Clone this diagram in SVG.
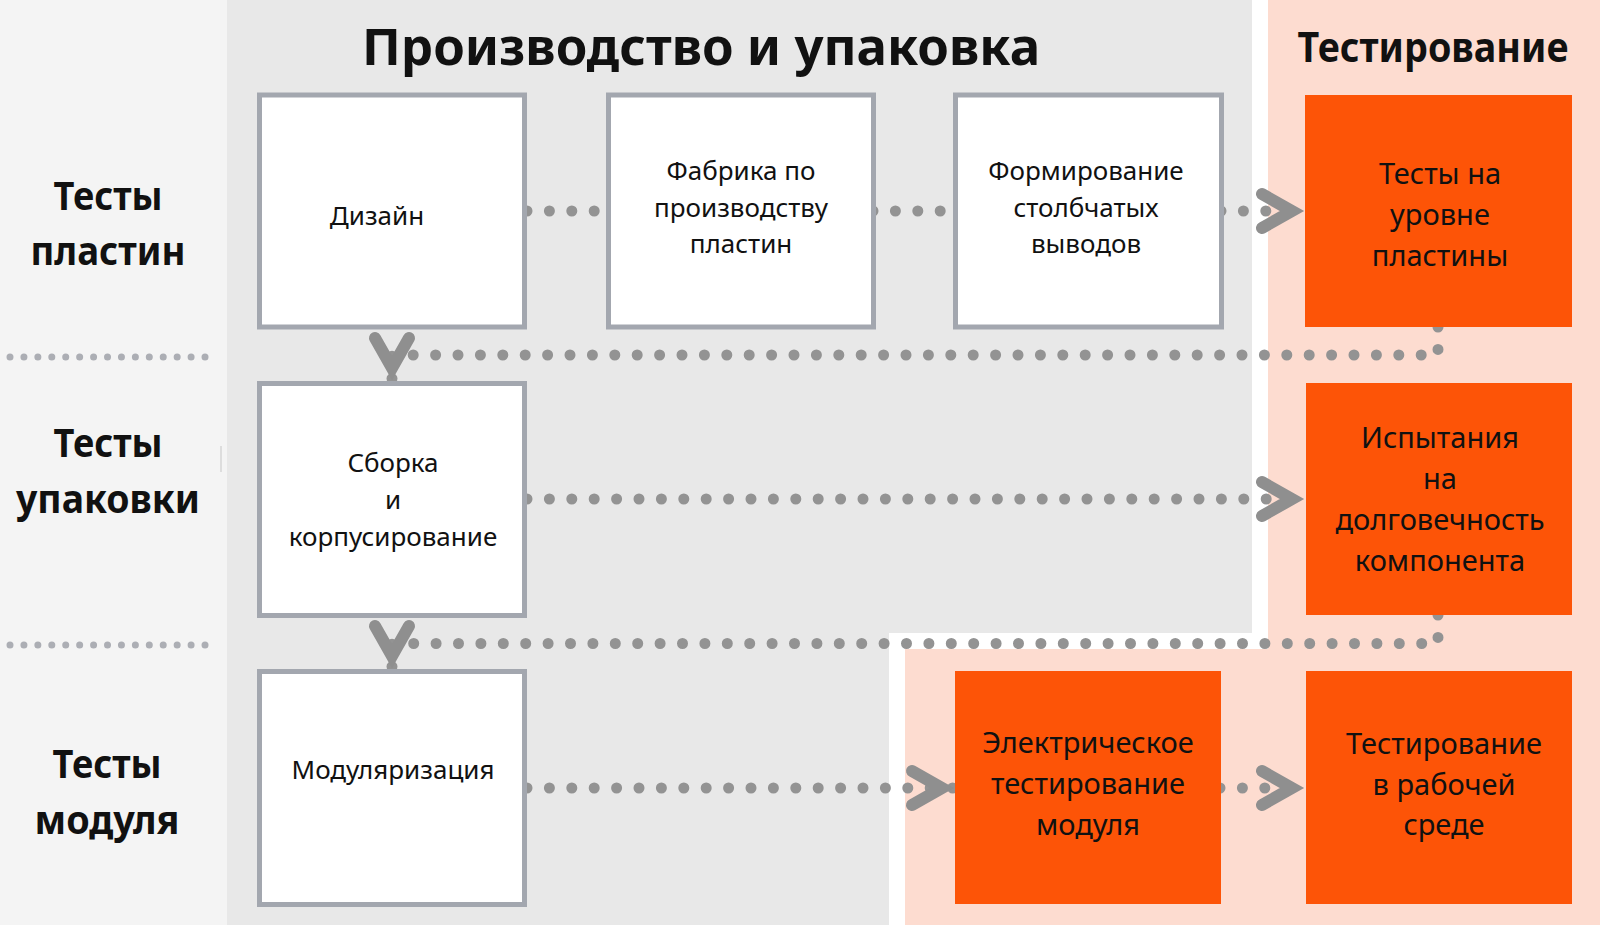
<svg xmlns="http://www.w3.org/2000/svg" width="1600" height="925" viewBox="0 0 1600 925">
<style>
.box{fill:#ffffff;stroke:#a3a7af;stroke-width:5}
.obox{fill:#fd5407}
.t{font-family:"Noto Sans","Open Sans","DejaVu Sans",sans-serif;fill:#111111;text-anchor:middle}
.tw{font-size:26px}
.to{font-size:29px}
.lbl{font-size:39px;font-weight:bold}
.dot{fill:none;stroke:#939393;stroke-width:11;stroke-linecap:round;stroke-dasharray:0 22.4;marker-end:url(#chev)}
.dotn{fill:none;stroke:#939393;stroke-width:11;stroke-linecap:round;stroke-dasharray:0 22.4}
.sep{fill:none;stroke:#acaeb4;stroke-width:7;stroke-linecap:round;stroke-dasharray:0 13.93}
</style>
<defs>
<marker id="chev" markerUnits="userSpaceOnUse" markerWidth="60" markerHeight="60" viewBox="-50 -30 60 60" refX="0" refY="0" orient="auto" overflow="visible">
<path d="M-42,-17 L-12,0 L-42,17" fill="none" stroke="#8f8f8f" stroke-width="12" stroke-linecap="round" stroke-linejoin="miter"/>
</marker>
</defs>
<g id="background">
<rect x="0" y="0" width="1600" height="925" fill="#ffffff"/>
<rect x="0" y="0" width="227" height="925" fill="#f4f4f4"/>
<path d="M227,0 H1252 V633 H889 V925 H227 Z" fill="#e8e8e8"/>
<path d="M1268,0 H1600 V925 H905 V649 H1268 Z" fill="#fddcd0"/>
<line x1="221" y1="446" x2="221" y2="472" stroke="#d6d6d6" stroke-width="1.5"/>
</g>
<g id="titles">
<text class="t" x="701" y="65" font-size="51" font-weight="bold" textLength="678" lengthAdjust="spacingAndGlyphs">Производство и упаковка</text>
<text class="t" x="1433" y="62" font-size="42" font-weight="bold" textLength="271" lengthAdjust="spacingAndGlyphs">Тестирование</text>
</g>
<g id="row-labels">
<text class="t lbl" x="108" y="210" textLength="109" lengthAdjust="spacingAndGlyphs">Тесты</text>
<text class="t lbl" x="108" y="265" textLength="155" lengthAdjust="spacingAndGlyphs">пластин</text>
<text class="t lbl" x="108" y="457" textLength="109" lengthAdjust="spacingAndGlyphs">Тесты</text>
<text class="t lbl" x="108" y="513" textLength="184" lengthAdjust="spacingAndGlyphs">упаковки</text>
<text class="t lbl" x="107" y="778" textLength="109" lengthAdjust="spacingAndGlyphs">Тесты</text>
<text class="t lbl" x="107" y="834" textLength="145" lengthAdjust="spacingAndGlyphs">модуля</text>
<path class="sep" d="M10,357 H206"/>
<path class="sep" d="M10,645 H206"/>
</g>
<g id="connectors">
<path class="dotn" d="M527,211 H606"/>
<path class="dotn" d="M873,211 H953"/>
<path class="dot" d="M1221,211 H1304"/>
<path class="dot" d="M1438,327 V355 H392 V380"/>
<path class="dot" d="M527,499 H1304"/>
<path class="dot" d="M1438,615 V643.5 H392 V668"/>
<path class="dot" d="M527,788 H954"/>
<path class="dot" d="M1220,788 H1304"/>
</g>
<g id="node-design">
<rect class="box" x="259.5" y="95" width="265" height="232"/>
<text class="t tw" x="377" y="225">Дизайн</text>
</g>
<g id="node-fab">
<rect class="box" x="608.5" y="95" width="265" height="232"/>
<text class="t tw" x="741" y="180">Фабрика по</text>
<text class="t tw" x="741" y="217">производству</text>
<text class="t tw" x="741" y="253">пластин</text>
</g>
<g id="node-bumping">
<rect class="box" x="955.5" y="95" width="266" height="232"/>
<text class="t tw" x="1086" y="180">Формирование</text>
<text class="t tw" x="1086" y="217">столбчатых</text>
<text class="t tw" x="1086" y="253">выводов</text>
</g>
<g id="node-wafer-test">
<rect class="obox" x="1305" y="95" width="267" height="232"/>
<text class="t to" x="1440" y="184">Тесты на</text>
<text class="t to" x="1440" y="225">уровне</text>
<text class="t to" x="1440" y="266">пластины</text>
</g>
<g id="node-assembly">
<rect class="box" x="259.5" y="383.5" width="265" height="232"/>
<text class="t tw" x="393" y="472">Сборка</text>
<text class="t tw" x="393" y="509">и</text>
<text class="t tw" x="393" y="546">корпусирование</text>
</g>
<g id="node-reliability">
<rect class="obox" x="1306" y="383" width="266" height="232"/>
<text class="t to" x="1440" y="448">Испытания</text>
<text class="t to" x="1440" y="489">на</text>
<text class="t to" x="1440" y="530">долговечность</text>
<text class="t to" x="1440" y="571">компонента</text>
</g>
<g id="node-module">
<rect class="box" x="259.5" y="671.5" width="265" height="233"/>
<text class="t tw" x="393" y="779">Модуляризация</text>
</g>
<g id="node-module-test">
<rect class="obox" x="955" y="671" width="266" height="233"/>
<text class="t to" x="1088" y="753">Электрическое</text>
<text class="t to" x="1088" y="794">тестирование</text>
<text class="t to" x="1088" y="835">модуля</text>
</g>
<g id="node-field-test">
<rect class="obox" x="1306" y="671" width="266" height="233"/>
<text class="t to" x="1444" y="754">Тестирование</text>
<text class="t to" x="1444" y="795">в рабочей</text>
<text class="t to" x="1444" y="835">среде</text>
</g>
</svg>
